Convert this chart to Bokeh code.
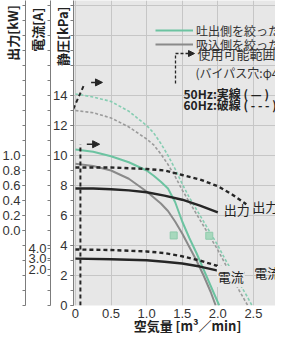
from bokeh.plotting import figure
from bokeh.models import (Range1d, LinearAxis, FixedTicker, PrintfTickFormatter,
                          Label, Arrow, NormalHead, Legend, LegendItem)
from bokeh.embed import file_html
from bokeh.resources import INLINE

# ---------------- data ----------------
# 50 Hz, discharge side throttled (static pressure, kPa)
flow_dis50 = [0.0, 0.25, 0.5, 0.75, 1.0, 1.1, 1.2, 1.3, 1.4, 1.5, 1.6, 1.7, 1.8, 1.9, 2.02]
kpa_dis50 = [10.4, 10.25, 9.95, 9.55, 9.0, 8.65, 8.25, 7.8, 6.9, 5.6, 4.5, 3.5, 2.4, 1.3, 0.0]
# 50 Hz, suction side throttled
flow_suc50 = [0.0, 0.25, 0.5, 0.75, 1.0, 1.1, 1.2, 1.3, 1.4, 1.5, 1.6, 1.7, 1.8, 1.9, 1.97]
kpa_suc50 = [9.45, 9.3, 9.0, 8.45, 7.6, 7.2, 6.8, 6.3, 5.6, 4.8, 3.9, 3.0, 2.0, 0.9, 0.0]
# 60 Hz, discharge side throttled
flow_dis60 = [0.0, 0.25, 0.5, 0.75, 1.0, 1.1, 1.2, 1.3, 1.4, 1.5, 1.6, 1.7, 1.8, 1.9, 2.0, 2.1, 2.2, 2.3, 2.4, 2.48]
kpa_dis60 = [14.1, 13.9, 13.6, 12.95, 12.0, 11.5, 10.8, 10.0, 9.1, 8.1, 7.2, 6.4, 5.6, 4.8, 4.0, 3.1, 2.3, 1.5, 0.7, 0.0]
# 60 Hz, suction side throttled
flow_suc60 = [0.0, 0.25, 0.5, 0.75, 1.0, 1.1, 1.2, 1.3, 1.4, 1.5, 1.6, 1.7, 1.8, 1.9, 2.0, 2.1, 2.2, 2.3, 2.42]
kpa_suc60 = [13.0, 12.85, 12.5, 11.9, 11.1, 10.7, 10.1, 9.4, 8.6, 7.7, 6.9, 6.1, 5.3, 4.5, 3.7, 2.8, 1.9, 1.0, 0.0]

# output (kW)
flow_kw50 = [0.0, 0.25, 0.5, 0.75, 1.0, 1.25, 1.5, 1.75, 2.0]
kw50 = [0.56, 0.56, 0.55, 0.535, 0.51, 0.465, 0.41, 0.33, 0.24]
flow_kw60 = [0.0, 0.25, 0.5, 0.75, 1.0, 1.25, 1.5, 1.75, 2.0, 2.2, 2.4]
kw60 = [0.84, 0.84, 0.84, 0.83, 0.82, 0.80, 0.74, 0.68, 0.59, 0.48, 0.35]

# current (A)
flow_a50 = [0.0, 0.5, 1.0, 1.25, 1.5, 1.75, 2.0]
amp50 = [3.03, 2.98, 2.88, 2.75, 2.58, 2.3, 1.93]
flow_a60 = [0.0, 0.5, 1.0, 1.25, 1.5, 1.75, 2.0, 2.2, 2.4]
amp60 = [3.88, 3.83, 3.7, 3.55, 3.25, 2.85, 2.35, 1.98, 1.65]

# usable range (bypass hole) markers
usable50_flow = [0.07, 0.07]
usable50_kpa = [0.0, 10.75]
usable60_flow = [-0.03, 0.13]
usable60_kpa = [13.1, 14.8]
arrow50_flow = [0.16, 0.34]
arrow50_kpa = 10.75
arrow60_flow = [0.22, 0.38]
arrow60_kpa = 14.87

# small square marks
square_flow = [1.38, 1.88]
square_kpa = [4.67, 4.65]

# tick labels
x_tick_values = [0, 0.5, 1.0, 1.5, 2.0, 2.5]
x_tick_labels = ["0", "0.5", "1.0", "1.5", "2.0", "2.5"]
kpa_tick_values = [0, 2, 4, 6, 8, 10, 12, 14]
kw_tick_values = [0.0, 0.2, 0.4, 0.6, 0.8, 1.0]
amp_tick_values = [2.0, 3.0, 4.0]

# secondary-axis placement against the kPa scale
KW_ZERO_KPA = 5.0
KPA_PER_KW = 5.0
AMP_REF = 4.0
AMP_REF_KPA = 3.82
KPA_PER_AMP = 0.72

# ---------------- styles ----------------
GREEN = "#6cc3a1"
GREEN_L = "#86cdb2"
GRAY = "#8a8a8a"
GRAY_L = "#9b9b9b"
BLACK = "#262626"
BG = "#e7e7e7"
JP = "Noto Sans CJK JP"
NUM = "Liberation Sans"
IDSP = "\u3000"   # blank filler used to shift centred axis titles
ENSP = "\u2002"

Y_MAX = 20.33
FL, FB = 65, 305  # frame left / bottom on canvas

p = figure(width=275, height=342, x_range=Range1d(-0.027, 2.81), y_range=Range1d(0, Y_MAX),
           output_backend="svg", toolbar_location=None,
           min_border_left=FL, min_border_right=0, min_border_top=0, min_border_bottom=37)
p.background_fill_color = BG
p.border_fill_color = "white"
p.outline_line_color = None

kpa_to_kw = lambda k: (k - KW_ZERO_KPA) / KPA_PER_KW
kpa_to_amp = lambda k: AMP_REF + (k - AMP_REF_KPA) / KPA_PER_AMP
p.extra_y_ranges = {
    "kw": Range1d(kpa_to_kw(0), kpa_to_kw(Y_MAX)),
    "amp": Range1d(kpa_to_amp(0), kpa_to_amp(Y_MAX)),
}

ax_kpa = p.yaxis[0]
ax_kpa.ticker = FixedTicker(ticks=kpa_tick_values, minor_ticks=list(range(0, 21)))
ax_amp = LinearAxis(y_range_name="amp",
                    ticker=FixedTicker(ticks=amp_tick_values,
                                       minor_ticks=[kpa_to_amp(k) for k in range(0, 21)]),
                    formatter=PrintfTickFormatter(format="%.1f"))
ax_kw = LinearAxis(y_range_name="kw",
                   ticker=FixedTicker(ticks=kw_tick_values,
                                      minor_ticks=[kpa_to_kw(k) for k in range(0, 21)]),
                   formatter=PrintfTickFormatter(format="%.1f"))
p.add_layout(ax_amp, "left")
p.add_layout(ax_kw, "left")

axis_specs = (
    (ax_kpa, 3, "静圧[kPa]" + IDSP * 5 + ENSP, -22),
    (ax_amp, 1, "電流[A]" + IDSP * 4 + ENSP, -22),
    (ax_kw, 2, "出力[kW]" + IDSP * 5, -23),
)
for ax, standoff, title, lab_standoff in axis_specs:
    ax.axis_line_color = "#7c7c7c"
    ax.major_tick_line_color = "#7c7c7c"
    ax.minor_tick_line_color = "#7c7c7c"
    ax.major_tick_in = 0
    ax.minor_tick_in = 0
    ax.major_tick_out = 3
    ax.minor_tick_out = 3
    ax.major_label_text_font = NUM
    ax.major_label_text_font_size = "13px"
    ax.major_label_text_color = "#333333"
    ax.major_label_standoff = standoff
    ax.axis_label = title
    ax.axis_label_text_font = JP
    ax.axis_label_text_font_size = "13px"
    ax.axis_label_text_font_style = "bold"
    ax.axis_label_text_color = "#222222"
    ax.axis_label_standoff = lab_standoff
    ax.axis_label_align = "end"

xa = p.xaxis[0]
xa.ticker = FixedTicker(ticks=x_tick_values)
xa.major_label_overrides = dict(zip(x_tick_values, x_tick_labels))
xa.axis_line_color = None
xa.major_tick_line_color = None
xa.minor_tick_line_color = None
xa.major_tick_out = 0
xa.minor_tick_out = 0
xa.major_label_text_font = NUM
xa.major_label_text_font_size = "13px"
xa.major_label_text_color = "#333333"
xa.major_label_standoff = 3
xa.axis_label = IDSP * 2 + "空気量 [m³／min]"
xa.axis_label_text_font = JP
xa.axis_label_text_font_size = "13px"
xa.axis_label_text_font_style = "bold"
xa.axis_label_text_color = "#222222"
xa.axis_label_standoff = -5

p.xgrid.ticker = FixedTicker(ticks=x_tick_values)
p.ygrid.ticker = FixedTicker(ticks=list(range(0, 21, 2)))
p.grid.grid_line_color = "#c6c6c6"
p.grid.grid_line_width = 1

# ---------------- curves ----------------
p.line(flow_dis60, kpa_dis60, line_color=GREEN_L, line_width=1.6, line_dash="3 2")
p.line(flow_suc60, kpa_suc60, line_color=GRAY_L, line_width=1.6, line_dash="3 2")
r_dis = p.line(flow_dis50, kpa_dis50, line_color=GREEN, line_width=2)
r_suc = p.line(flow_suc50, kpa_suc50, line_color=GRAY, line_width=2)

p.line(flow_kw50, kw50, y_range_name="kw", line_color=BLACK, line_width=2.4)
p.line(flow_kw60, kw60, y_range_name="kw", line_color=BLACK, line_width=2.4, line_dash="4 3")
p.line(flow_a50, amp50, y_range_name="amp", line_color=BLACK, line_width=2.4)
p.line(flow_a60, amp60, y_range_name="amp", line_color=BLACK, line_width=2.4, line_dash="4 3")

p.scatter(square_flow, square_kpa, marker="square", size=7,
          fill_color="#a7d8bd", line_color="#8fcaac")

p.line(usable50_flow, usable50_kpa, line_color=BLACK, line_width=2, line_dash="4 3")
p.line(usable60_flow, usable60_kpa, line_color=BLACK, line_width=2, line_dash="4 3")
for fl, kp in ((arrow50_flow, arrow50_kpa), (arrow60_flow, arrow60_kpa)):
    p.add_layout(Arrow(x_start=fl[0], y_start=kp, x_end=fl[1], y_end=kp,
                       line_color=BLACK, line_width=1.5,
                       end=NormalHead(size=7, fill_color=BLACK, line_color=BLACK)))

# curve labels
def curve_label(x, y, rng, text, dx, dy, bg=None):
    p.add_layout(Label(x=x, y=y, y_range_name=rng, text=text, x_offset=dx, y_offset=dy,
                       text_font=JP, text_font_size="13px", text_color="#222222",
                       text_align="left", text_baseline="middle",
                       background_fill_color=bg, padding=1))

curve_label(flow_kw50[-1], kw50[-1], "kw", "出力", 5, 3)
curve_label(flow_kw60[-1], kw60[-1], "kw", "出力", 5, -2)
curve_label(flow_a50[-1], amp50[-1], "amp", "電流", -1, -6, bg=BG)
curve_label(flow_a60[-1], amp60[-1], "amp", "電流", 7, 1)

# ---------------- legend (one single-row legend per line style) ----------------
ROW_OFFSET = 13.5
for label, rend, row_y in (("吐出側を絞った時", r_dis, 25), ("吸込側を絞った時", r_suc, 39)):
    p.add_layout(Legend(items=[LegendItem(label=label, renderers=[rend])],
                        location=(82, FB - row_y - ROW_OFFSET), orientation="vertical",
                        border_line_color=None, background_fill_alpha=0,
                        label_text_font=JP, label_text_font_size="12px",
                        label_text_color="#333333", glyph_width=38, glyph_height=14,
                        label_height=14, label_standoff=3, spacing=0, padding=0, margin=0))

def screen_label(cx, cy, text, size="12px", bold=False, align="left", color="#333333"):
    p.add_layout(Label(x=cx - FL, y=FB - cy, x_units="screen", y_units="screen", text=text,
                       text_font=JP, text_font_size=size,
                       text_font_style="bold" if bold else "normal",
                       text_color=color, text_align=align, text_baseline="middle"))

screen_label(189, 53, "使用可能範囲", size="13px")
screen_label(187, 72, "(バイパス穴:φ4)", size="12px")
screen_label(175, 93, "50Hz:実線", size="12px", bold=True, color="#222222")
screen_label(235, 93, "( — )", size="12px", bold=True, color="#222222")
screen_label(175, 104, "60Hz:破線", size="12px", bold=True, color="#222222")
screen_label(235, 104, "( - - - )", size="12px", bold=True, color="#222222")

p.add_layout(Arrow(x_start=167 - FL, y_start=FB - 53, x_end=186 - FL, y_end=FB - 53,
                   start_units="screen", end_units="screen", line_color=BLACK, line_width=1.3,
                   line_dash="3 2", end=NormalHead(size=6, fill_color=BLACK, line_color=BLACK)))
p.add_layout(Arrow(x_start=167 - FL, y_start=FB - 55, x_end=167 - FL, y_end=FB - 83,
                   start_units="screen", end_units="screen", line_color=BLACK, line_width=1.3,
                   line_dash="3 2", end=None))

open("out.html", "w").write(file_html(p, INLINE))
